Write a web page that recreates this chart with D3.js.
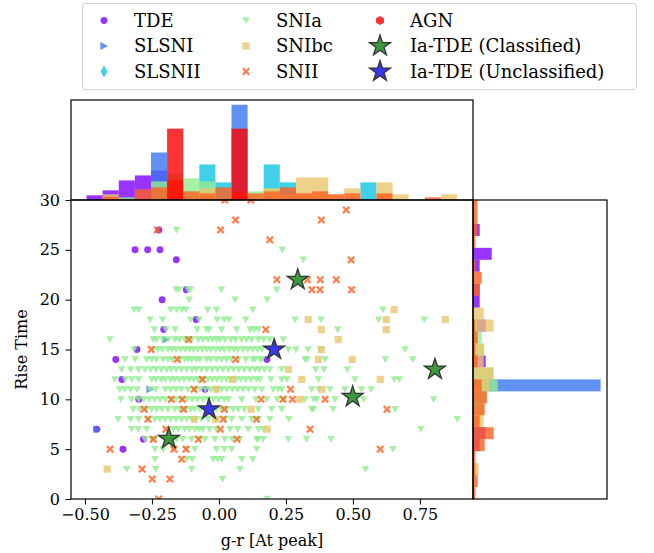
<!DOCTYPE html>
<html>
<head>
<meta charset="utf-8">
<script src="https://cdn.jsdelivr.net/npm/d3@7"></script>
<style>
  body { margin: 0; background: #fff; }
  svg text { font-family: "DejaVu Serif", serif; font-size: 16px; fill: #000; }
  svg .legend-label { font-size: 18px; }
</style>
</head>
<body>
<div id="chart"></div>
<script>
// --- g-r colour at peak vs. rise time, with marginal histograms per class ---

const classNames = ['TDE', 'SLSNI', 'SLSNII', 'SNIa', 'SNIbc', 'SNII', 'AGN'];
const classColors = ['#8000ff', '#3a75f2', '#10c4e2', '#90ee90', '#eac76f', '#ff6020', '#ff0000'];

// scatter points [g-r, rise time]
const tdePoints = [[-0.224, 27], [-0.313, 25], [-0.266, 25], [-0.22, 25], [-0.159, 24], [-0.122, 21],
  [-0.212, 20], [-0.085, 18], [-0.206, 17], [-0.306, 15], [-0.385, 14], [0.179, 14], [-0.362, 12],
  [-0.299, 10], [-0.052, 11], [-0.456, 7], [-0.282, 6], [-0.358, 5]];
const slsniPoints = [[-0.257, 11], [-0.198, 16], [-0.455, 7]];
const snIbcPoints = [[0.654, 19], [0.333, 18], [0.624, 18], [0.845, 18], [0.382, 17], [0.624, 17],
  [0.445, 16], [0.382, 15], [0.371, 14], [0.497, 14], [0.259, 13], [0.309, 12], [0.602, 12], [0.05, 12],
  [0.385, 11], [-0.01, 11], [0.302, 10], [0.12, 9], [-0.092, 8], [-0.012, 8], [0.18, 7], [-0.417, 3]];
const sniiPoints = [[-0.23, 27], [0.062, 28], [0.006, 27], [0.19, 26], [0.175, 17], [-0.113, 16],
  [-0.253, 15], [0.022, 30], [0.119, 30], [0.475, 29], [0.382, 28], [0.493, 24], [0.216, 22], [0.33, 22],
  [0.378, 22], [0.438, 22], [0.347, 21], [0.377, 21], [0.495, 21], [-0.156, 14], [0.062, 14], [-0.062, 12],
  [-0.093, 11], [-0.178, 10], [-0.137, 10], [-0.279, 9], [-0.132, 9], [-0.265, 8], [0.02, 9], [0.016, 8],
  [0.157, 10], [0.14, 8], [0.005, 7], [-0.198, 7], [-0.245, 6], [-0.077, 6], [0.067, 6], [-0.406, 5],
  [-0.168, 5], [-0.123, 5], [-0.139, 4], [-0.287, 3], [-0.249, 2], [-0.183, 2], [-0.225, 0], [0.267, 11],
  [0.239, 10], [0.274, 10], [0.396, 10], [0.627, 9], [0.34, 7], [0.602, 5]];

// SNIa rise times are whole days, so keep them as rows
const snIaRise = [27, 25, 24, 21, 20, 19, 18, 17, 16, 15, 14, 13, 12, 11, 10, 9, 8, 7, 6, 5, 4, 3, 2, 0];
const snIaGr = [
  [-0.159],
  [0.236],
  [0.315],
  [-0.16, -0.149, -0.115, -0.106, 0.009, 0.215],
  [-0.111, 0.06, 0.18],
  [-0.317, -0.299, -0.18, -0.158, -0.138, -0.123, -0.042, -0.009, 0.126, 0.612],
  [-0.257, -0.21, -0.106, -0.074, -0.007, 0.02, 0.037, 0.1, 0.284, 0.381, 0.596, 0.766],
  [-0.241, -0.198, -0.164, -0.081, -0.046, -0.037, 0.01, 0.066, 0.116, 0.132, 0.147, 0.443],
  [-0.407, -0.245, -0.233, -0.21, -0.19, -0.164, -0.148, -0.127, -0.114, -0.102, -0.077, -0.059, -0.04,
    -0.024, -0.009, 0.004, 0.022, 0.045, 0.062, 0.085, 0.103, 0.122, 0.147, 0.167, 0.19, 0.24],
  [-0.317, -0.246, -0.228, -0.212, -0.19, -0.175, -0.16, -0.142, -0.125, -0.11, -0.095, -0.08, -0.062,
    -0.045, -0.03, -0.012, 0.005, 0.02, 0.038, 0.055, 0.07, 0.09, 0.108, 0.126, 0.144, 0.16, 0.259, 0.287,
    0.333, 0.379, 0.694],
  [-0.351, -0.313, -0.27, -0.251, -0.233, -0.208, -0.19, -0.174, -0.145, -0.127, -0.115, -0.102, -0.085,
    -0.071, -0.046, -0.03, -0.009, 0.01, 0.028, 0.045, 0.072, 0.1, 0.126, 0.135, 0.153, 0.16, 0.321, 0.329,
    0.396, 0.621, 0.723],
  [-0.363, -0.33, -0.3, -0.276, -0.255, -0.235, -0.215, -0.195, -0.178, -0.16, -0.14, -0.12, -0.1, -0.085,
    -0.065, -0.045, -0.025, -0.005, 0.015, 0.035, 0.055, 0.075, 0.095, 0.115, 0.135, 0.15, 0.17, 0.19, 0.234,
    0.361, 0.392, 0.479],
  [-0.388, -0.35, -0.325, -0.3, -0.251, -0.235, -0.215, -0.2, -0.18, -0.165, -0.148, -0.13, -0.112, -0.095,
    -0.078, -0.06, -0.042, -0.025, -0.008, 0.01, 0.028, 0.045, 0.065, 0.082, 0.1, 0.12, 0.14, 0.153, 0.194,
    0.234, 0.254, 0.371, 0.507, 0.654, 0.673],
  [-0.37, -0.351, -0.33, -0.305, -0.257, -0.236, -0.2, -0.18, -0.16, -0.14, -0.115, -0.09, -0.07, -0.05,
    -0.03, -0.01, 0.01, 0.03, 0.05, 0.07, 0.09, 0.11, 0.134, 0.16, 0.203, 0.221, 0.234, 0.346, 0.373, 0.414,
    0.47, 0.532, 0.568],
  [-0.366, -0.326, -0.3, -0.28, -0.26, -0.24, -0.22, -0.2, -0.18, -0.16, -0.14, -0.12, -0.1, -0.08, -0.06,
    -0.04, -0.02, 0.0, 0.02, 0.035, 0.085, 0.138, 0.178, 0.218, 0.243, 0.321, 0.354, 0.364, 0.433, 0.539, 0.801],
  [-0.32, -0.295, -0.27, -0.251, -0.232, -0.213, -0.19, -0.165, -0.146, -0.125, -0.105, -0.09, -0.07, -0.05,
    -0.03, -0.01, 0.01, 0.03, 0.053, 0.072, 0.095, 0.147, 0.197, 0.234, 0.346, 0.352, 0.426, 0.657],
  [-0.376, -0.33, -0.3, -0.264, -0.239, -0.22, -0.201, -0.18, -0.16, -0.139, -0.12, -0.1, -0.09, -0.065,
    -0.04, -0.009, 0.022, 0.047, 0.085, 0.122, 0.147, 0.19, 0.261, 0.889],
  [-0.326, -0.301, -0.27, -0.19, -0.17, -0.152, -0.127, -0.11, -0.09, -0.075, -0.06, -0.035, -0.01, 0.041,
    0.07, 0.109, 0.147, 0.165, 0.753],
  [-0.276, -0.251, -0.239, -0.158, -0.135, -0.102, -0.071, -0.052, -0.015, 0.022, 0.05, 0.078, 0.141, 0.147,
    0.165, 0.259, 0.327, 0.418],
  [-0.239, -0.208, -0.17, -0.12, -0.09, -0.009, 0.02, 0.047, 0.141, 0.649],
  [-0.239, -0.12, -0.1, -0.021, -0.005, 0.01, 0.085, 0.126],
  [-0.344, -0.236, -0.102, 0.078, 0.547],
  [0.013],
  [0.18]
];

const iaTdeClassified = [[0.294, 22], [0.806, 13], [0.499, 10.25], [-0.187, 6.05]];
const iaTdeUnclassified = [[0.206, 15], [-0.037, 9]];

// top histogram (g-r), 24 bins from -0.494, heights in density units
const grBinStart = -0.494, grBinWidth = 0.0601;
const grHistTDE    = [4.7, 9.7, 19.7, 24.7, 29.7, 0, 0, 0, 0, 0, 0, 0, 0, 0, 0, 0, 0, 0, 0, 0, 0, 0, 0, 0];
const grHistSLSNI  = [0, 0, 0, 0, 47.7, 0, 0, 0, 0, 95.7, 0, 0, 0, 0, 0, 0, 0, 0, 0, 0, 0, 0, 0, 0];
const grHistSLSNII = [0, 0, 0, 0, 0, 0, 0, 35.7, 17.7, 0, 0, 35.7, 17.7, 0, 0, 0, 0, 17.7, 0, 0, 0, 0, 0, 0];
const grHistSNIa   = [0, 0, 2.7, 0, 18.7, 26.7, 21.7, 18.7, 0, 0, 8.7, 11.7, 0, 0, 0, 0, 0, 0, 0, 0, 0, 0, 0, 0];
const grHistSNIbc  = [0, 5.7, 0, 0, 0, 0, 0, 11.7, 0, 0, 0, 11.7, 5.7, 22.7, 22.7, 5.7, 11.7, 0, 17.7, 5.7, 0, 0, 5.7, 0];
const grHistSNII   = [0, 3.3, 0, 10.7, 12.7, 19.7, 8.7, 6.7, 12.7, 7.7, 6.7, 8.7, 12.7, 6.7, 8.7, 5.7, 6.7, 0, 6.7, 0, 0, 2.7, 0, 0];
const grHistAGN    = [0, 0, 0, 0, 0, 71.7, 0, 0, 0, 71.7, 0, 0, 0, 0, 0, 0, 0, 0, 0, 0, 0, 0, 0, 0];

// right histogram (rise time), 25 bins of 1.2 d from 0 to 30
const riseBinWidth = 1.2;
const riseHistTDE   = [0, 0, 0, 0, 6.7, 12.7, 0, 0, 0, 0, 0, 12.7, 0, 0, 12.7, 0, 6.7, 6.7, 0, 6.7, 18.7, 0, 6.7, 0, 0];
const riseHistSLSNI = [0, 0, 0, 0, 0, 0, 0, 0, 0, 127.7, 0, 0, 0, 0, 0, 0, 0, 0, 0, 0, 0, 0, 0, 0, 0];
const riseHistSNIa  = [0, 0, 0, 0, 0, 0, 0, 11, 14.7, 24.7, 20, 0, 11.3, 8.7, 4, 1.3, 0, 0, 0, 0, 0, 0, 0, 0, 0];
const riseHistSNIbc = [0, 0, 5.7, 0, 0, 0, 10.7, 0, 0, 16, 20.7, 10.7, 10.7, 0, 20.7, 10.7, 0, 0, 0, 0, 0, 0, 0, 0, 0];
const riseHistSNII  = [2.3, 4.7, 2.3, 2.3, 11.7, 20.7, 6.7, 11.7, 13.7, 8.7, 0, 4.7, 2.3, 4.7, 2.3, 0, 0, 6.7, 8.7, 2.3, 0, 2.3, 4.3, 4.3, 4.3];

const xTicks = [-0.5, -0.25, 0, 0.25, 0.5, 0.75];
const yTicks = [0, 5, 10, 15, 20, 25, 30];

// marker shapes
function markerPath(kind) {
  if (kind === 'circle') return d3.symbol(d3.symbolCircle, 38)();
  if (kind === 'triRight') return 'M-3.6,-4L4,0L-3.6,4Z';
  if (kind === 'thinDiamond') return 'M0,-6L3.4,0L0,6L-3.4,0Z';
  if (kind === 'triDown') return 'M-3.8,-3.2L3.8,-3.2L0,3.6Z';
  if (kind === 'square') return 'M-3.6,-3.6h7.2v7.2h-7.2Z';
  if (kind === 'xmark') return 'M-4,-2.4L-2.4,-4L0,-1.6L2.4,-4L4,-2.4L1.6,0L4,2.4L2.4,4L0,1.6L-2.4,4L-4,2.4L-1.6,0Z';
  if (kind === 'hexagon') {
    return 'M' + d3.range(6).map(k => {
      const a = -Math.PI / 2 + k * Math.PI / 3;
      return [4.6 * Math.cos(a), 4.6 * Math.sin(a)];
    }).join('L') + 'Z';
  }
  if (kind === 'star') {
    return 'M' + d3.range(10).map(k => {
      const r = k % 2 ? 11 * 0.382 : 11;
      const a = -Math.PI / 2 + k * Math.PI / 5;
      return [r * Math.cos(a), r * Math.sin(a)];
    }).join('L') + 'Z';
  }
}

const classTable = [
  { points: tdePoints, grHist: grHistTDE, riseHist: riseHistTDE, marker: 'circle' },
  { points: slsniPoints, grHist: grHistSLSNI, riseHist: riseHistSLSNI, marker: 'triRight' },
  { points: [], grHist: grHistSLSNII, riseHist: null, marker: 'thinDiamond' },
  { points: snIaRise.flatMap((r, i) => snIaGr[i].map(g => [g, r])), grHist: grHistSNIa, riseHist: riseHistSNIa, marker: 'triDown' },
  { points: snIbcPoints, grHist: grHistSNIbc, riseHist: riseHistSNIbc, marker: 'square' },
  { points: sniiPoints, grHist: grHistSNII, riseHist: riseHistSNII, marker: 'xmark' },
  { points: [], grHist: grHistAGN, riseHist: null, marker: 'hexagon' }
].map((c, i) => ({ ...c, name: classNames[i], color: classColors[i] }));

const W = 654, H = 553;
const main = { left: 71, right: 473, top: 200, bottom: 499 };
const topBox = { top: 100, bottom: 200 };
const rightBox = { left: 473, right: 607 };

const svg = d3.select('#chart').append('svg')
  .attr('width', W)
  .attr('height', H);

const xScale = d3.scaleLinear().domain([-0.552, 0.948]).range([main.left, main.right]);
const yScale = d3.scaleLinear().domain([0, 30]).range([main.bottom, main.top]);

const grMax = d3.max(classTable, c => d3.max(c.grHist));
const topScale = d3.scaleLinear().domain([0, grMax * 1.05]).range([topBox.bottom, topBox.top]);
const riseMax = d3.max(classTable, c => c.riseHist ? d3.max(c.riseHist) : 0);
const rightScale = d3.scaleLinear().domain([0, riseMax * 1.05]).range([rightBox.left, rightBox.right]);

// --- main scatter ---
svg.append('clipPath').attr('id', 'main-clip')
  .append('rect')
  .attr('x', main.left).attr('y', main.top)
  .attr('width', main.right - main.left).attr('height', main.bottom - main.top);

const scatter = svg.append('g').attr('clip-path', 'url(#main-clip)');

classTable.forEach(c => {
  scatter.append('g').selectAll('path')
    .data(c.points)
    .join('path')
    .attr('d', markerPath(c.marker))
    .attr('transform', d => `translate(${xScale(d[0])},${yScale(d[1])})`)
    .attr('fill', c.color)
    .attr('fill-opacity', 0.8);
});

const starGroups = [
  { points: iaTdeClassified, color: '#3c9a3c' },
  { points: iaTdeUnclassified, color: '#3838ee' }
];
starGroups.forEach(s => {
  scatter.append('g').selectAll('path')
    .data(s.points)
    .join('path')
    .attr('d', markerPath('star'))
    .attr('transform', d => `translate(${xScale(d[0])},${yScale(d[1])})`)
    .attr('fill', s.color)
    .attr('stroke', '#333')
    .attr('stroke-width', 1.3);
});

// axes
const xAxis = svg.append('g')
  .attr('transform', `translate(0,${main.bottom})`)
  .call(d3.axisBottom(xScale).tickValues(xTicks).tickFormat(d3.format('.2f')).tickSize(5.5).tickPadding(4.5));
const yAxis = svg.append('g')
  .attr('transform', `translate(${main.left},0)`)
  .call(d3.axisLeft(yScale).tickValues(yTicks).tickSize(5.5).tickPadding(5.5));
[xAxis, yAxis].forEach(a => {
  a.select('.domain').remove();
  a.selectAll('text').attr('font-size', null).attr('font-family', null);
  a.selectAll('line').attr('stroke', '#000').attr('stroke-width', 1);
});

svg.append('text')
  .attr('x', (main.left + main.right) / 2)
  .attr('y', 546)
  .attr('text-anchor', 'middle')
  .text('g-r [At peak]');

svg.append('text')
  .attr('transform', 'rotate(-90)')
  .attr('x', -(main.top + main.bottom) / 2)
  .attr('y', 27)
  .attr('text-anchor', 'middle')
  .text('Rise Time');

// --- top histogram ---
const topHist = svg.append('g');
classTable.forEach(c => {
  topHist.append('g').selectAll('rect')
    .data(c.grHist.map((v, i) => ({ v, i })).filter(d => d.v > 0))
    .join('rect')
    .attr('x', d => xScale(grBinStart + d.i * grBinWidth))
    .attr('width', d => xScale(grBinStart + (d.i + 1) * grBinWidth) - xScale(grBinStart + d.i * grBinWidth))
    .attr('y', d => topScale(d.v))
    .attr('height', d => topScale(0) - topScale(d.v))
    .attr('fill', c.color)
    .attr('fill-opacity', 0.8);
});

// --- right histogram ---
const rightHist = svg.append('g');
classTable.filter(c => c.riseHist).forEach(c => {
  rightHist.append('g').selectAll('rect')
    .data(c.riseHist.map((v, k) => ({ v, k })).filter(d => d.v > 0))
    .join('rect')
    .attr('x', rightScale(0))
    .attr('width', d => rightScale(d.v) - rightScale(0))
    .attr('y', d => yScale((d.k + 1) * riseBinWidth))
    .attr('height', d => yScale(d.k * riseBinWidth) - yScale((d.k + 1) * riseBinWidth))
    .attr('fill', c.color)
    .attr('fill-opacity', 0.8);
});

// frames
const frames = [
  [main.left, main.top, main.right, main.bottom],
  [main.left, topBox.top, main.right, topBox.bottom],
  [rightBox.left, main.top, rightBox.right, main.bottom]
];
svg.append('g').selectAll('rect')
  .data(frames)
  .join('rect')
  .attr('x', d => d[0]).attr('y', d => d[1])
  .attr('width', d => d[2] - d[0]).attr('height', d => d[3] - d[1])
  .attr('fill', 'none')
  .attr('stroke', '#000')
  .attr('stroke-width', 1.2);

// --- legend ---
const legendItems = classTable.map(c => ({ label: c.name, marker: c.marker, color: c.color, opacity: 0.8 }))
  .concat([
    { label: 'Ia-TDE (Classified)', marker: 'star', color: '#3c9a3c', opacity: 1, stroke: '#333' },
    { label: 'Ia-TDE (Unclassified)', marker: 'star', color: '#3838ee', opacity: 1, stroke: '#333' }
  ]);

const legend = svg.append('g');
legend.append('rect')
  .attr('x', 82.5).attr('y', 3.5)
  .attr('width', 554).attr('height', 86)
  .attr('rx', 3)
  .attr('fill', '#fff')
  .attr('stroke', '#d0d0d0');

const colX = [104, 246, 380];
const rowY = [20.5, 46, 71.5];
legendItems.forEach((item, i) => {
  const col = Math.floor(i / 3), row = i % 3;
  const g = legend.append('g')
    .attr('transform', `translate(${colX[col]},${rowY[row]})`);
  g.append('path')
    .attr('d', markerPath(item.marker))
    .attr('fill', item.color)
    .attr('fill-opacity', item.opacity)
    .attr('stroke', item.stroke || 'none')
    .attr('stroke-width', 1.3);
  g.append('text')
    .attr('class', 'legend-label')
    .attr('x', 30)
    .attr('dy', '0.35em')
    .text(item.label);
});
</script>
</body>
</html>
